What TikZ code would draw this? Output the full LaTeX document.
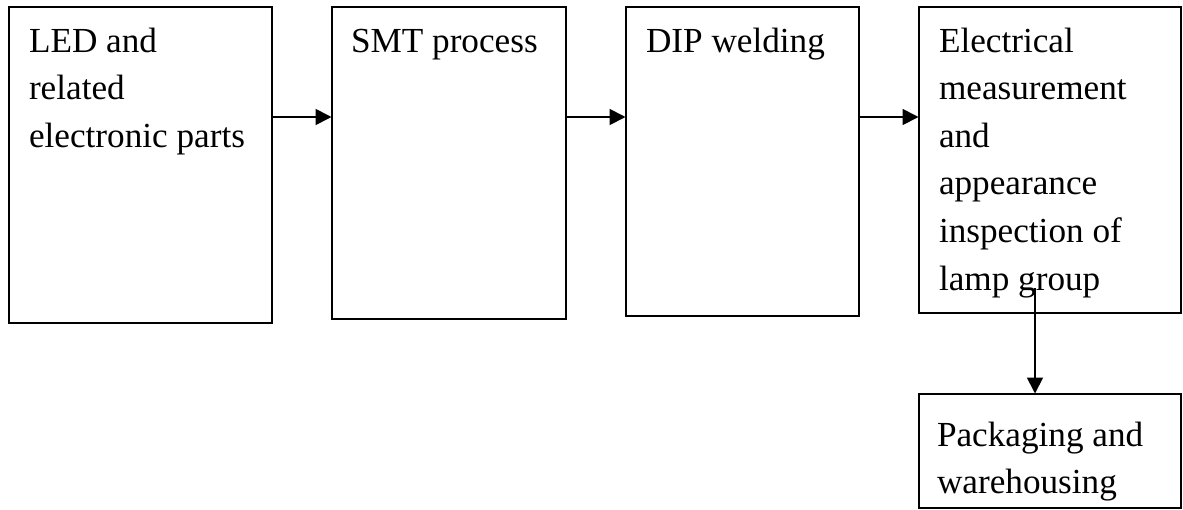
\documentclass[tikz,border=0pt]{standalone}
\usepackage{fontspec}
\setmainfont{Liberation Serif}
\usetikzlibrary{arrows.meta}
\begin{document}
\begin{tikzpicture}[x=0.5pt,y=-0.5pt,
  stagebox/.style={draw=black, line width=1pt, inner sep=0pt, outer sep=0pt, anchor=north west},
  label/.style={anchor=base west, inner sep=0pt, outer sep=0pt, font=\fontsize{17.6pt}{23.8pt}\selectfont},
  arr/.style={line width=0.9pt, -{Triangle[length=8pt,width=8pt]}}]
\useasboundingbox (0,0) rectangle (1183,509);
\node[stagebox, minimum width=131.5pt, minimum height=158pt] (b1) at (9,7) {};
\node[stagebox, minimum width=117pt, minimum height=156pt] (b2) at (331.5,7) {};
\node[stagebox, minimum width=116.5pt, minimum height=154.25pt] (b3) at (625.5,7) {};
\node[stagebox, minimum width=131.25pt, minimum height=152.75pt] (b4) at (918.5,7) {};
\node[stagebox, minimum width=131.25pt, minimum height=57pt] (b5) at (918.5,393.5) {};
\node[label] (t1) at (29,52) {\parbox[t]{125pt}{LED and\\related\\electronic parts}};
\node[label] (t2) at (351,52) {\parbox[t]{110pt}{SMT process}};
\node[label] (t3) at (646,52) {\parbox[t]{110pt}{DIP welding}};
\node[label] (t4) at (939,52) {\parbox[t]{120pt}{Electrical\\measurement\\and\\appearance\\inspection of\\lamp group}};
\node[label] (t5) at (937,446) {\parbox[t]{120pt}{Packaging and\\warehousing}};
\coordinate (h) at (0,117);
\coordinate (v0) at (1035,288);
\draw[arr] (b1.east |- h) -- (b2.west |- h);
\draw[arr] (b2.east |- h) -- (b3.west |- h);
\draw[arr] (b3.east |- h) -- (b4.west |- h);
\draw[arr] (v0) -- (v0 |- b5.north);
\end{tikzpicture}
\end{document}
